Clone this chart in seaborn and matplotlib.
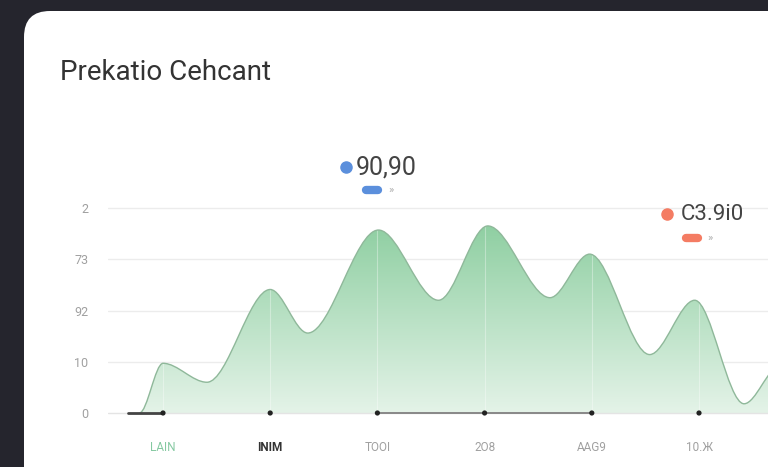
import numpy as np
import matplotlib
matplotlib.use("Agg")
import matplotlib.pyplot as plt
import seaborn as sns
from matplotlib.path import Path
from matplotlib.patches import PathPatch, FancyBboxPatch
from matplotlib.transforms import IdentityTransform
from matplotlib.colors import LinearSegmentedColormap

# ---- data ----
categories = ["LAIN", "INIM", "TOOI", "2O8", "AAG9", "10.Ж"]
cat_colors = ["#86c9a2", "#333333", "#a0a0a0", "#a0a0a0", "#a0a0a0", "#a0a0a0"]
curve_x = [-0.22, 0.0, 0.41, 1.0, 1.35, 2.01, 2.57, 3.03, 3.61, 3.98, 4.54, 4.96, 5.42, 5.75]
curve_y = [0.0, 9.7, 6.0, 24.1, 15.6, 35.7, 22.0, 36.5, 22.5, 31.0, 11.4, 22.0, 1.8, 9.0]
ytick_vals = [0, 10, 20, 30, 40]
ytick_labels = ["0", "10", "92", "73", "2"]
badge_blue = "90,90"
badge_red = "C3.9i0"

W, H = 768, 467
sns.set_style("white")
plt.rcParams["font.family"] = ["Roboto", "DejaVu Sans"]

fig = plt.figure(figsize=(W / 100, H / 100), dpi=100, facecolor="#25252d")

# white rounded card
card = FancyBboxPatch((24, -30), 800, 30 + H - 11, boxstyle="round,pad=0,rounding_size=26",
                      transform=IdentityTransform(), facecolor="white", edgecolor="none", zorder=-5)
fig.patches.append(card)


def fx(px):
    return px / W


def fy(py):
    return 1 - py / H


# axes placed so category 0 sits at px 163 and step is ~107 px
left_px, right_px, top_px, bot_px = 108, 768, 150, 420
ax = fig.add_axes([fx(left_px), fy(bot_px), fx(right_px - left_px), (bot_px - top_px) / H])
ax.set_zorder(2)
ax.patch.set_alpha(0)
x_per_px = 1 / 107.2
y_per_px = 10 / 51.25
xlim = ((left_px - 163) * x_per_px, (right_px - 163) * x_per_px)
ylim = (-(bot_px - 413) * y_per_px, (413 - top_px) * y_per_px)

# horizontal grid lines
for v in ytick_vals[1:]:
    ax.axhline(v, color="#ececec", lw=1, zorder=1)

# smooth area curve with bezier segments through the points
verts = [(curve_x[0], curve_y[0])]
codes = [Path.MOVETO]
for i in range(len(curve_x) - 1):
    dx = curve_x[i + 1] - curve_x[i]
    verts += [(curve_x[i] + dx / 3, curve_y[i]), (curve_x[i + 1] - dx / 3, curve_y[i + 1]),
              (curve_x[i + 1], curve_y[i + 1])]
    codes += [Path.CURVE4] * 3
line_path = Path(verts, codes)
fill_path = Path(verts + [(curve_x[-1], 0), (curve_x[0], 0), (curve_x[0], 0)],
                 codes + [Path.LINETO, Path.LINETO, Path.CLOSEPOLY])

clip = PathPatch(fill_path, facecolor="none", edgecolor="none", transform=ax.transData)
ax.add_patch(clip)
cmap = LinearSegmentedColormap.from_list("g", ["#e4f3e8", "#8fcfa2"])
grad = np.linspace(0, 1, 256).reshape(-1, 1)
im = ax.imshow(grad, cmap=cmap, origin="lower", aspect="auto",
               extent=[curve_x[0], curve_x[-1], 0, max(curve_y)], zorder=2)
im.set_clip_path(clip)
ax.add_patch(PathPatch(line_path, facecolor="none", edgecolor="#8fb89a", lw=1.0, zorder=3))

# faint vertical lines only inside the filled area
for i in range(len(categories)):
    vl = ax.axvline(i, color="white", alpha=0.35, lw=0.8, zorder=2.5)
    vl.set_clip_path(clip)

ax.set_xlim(*xlim)
ax.set_ylim(*ylim)

# baseline with dots
ax.axhline(0, color="#e4e4e4", lw=1, zorder=3)
sns.lineplot(x=[-0.33, 0], y=[0, 0], color="#444444", lw=2, ax=ax, zorder=4)
sns.lineplot(x=[2, 4], y=[0, 0], color="#888888", lw=1.4, ax=ax, zorder=4)
sns.scatterplot(x=list(range(len(categories))), y=[0] * len(categories), color="#222222",
                s=14, edgecolor="none", ax=ax, zorder=5, clip_on=False)

ax.set_xticks(range(len(categories)))
ax.set_xticklabels(categories, fontsize=8.5)
for lab, c in zip(ax.get_xticklabels(), cat_colors):
    lab.set_color(c)
ax.get_xticklabels()[1].set_fontweight("bold")
ax.set_yticks(ytick_vals)
ax.set_yticklabels(ytick_labels, fontsize=9, color="#a0a0a0")
ax.tick_params(axis="x", length=0, pad=15)
ax.tick_params(axis="y", length=0, pad=14)
for s in ax.spines.values():
    s.set_visible(False)

# title
fig.text(fx(60), fy(72), "Prekatio Cehcant", fontsize=20, color="#333333", va="center", ha="left")

# badges
fig.lines.append(plt.Line2D([fx(346)], [fy(167)], marker="o", ms=8, color="#5b8fdc",
                            transform=fig.transFigure))
fig.text(fx(356), fy(167), badge_blue, fontsize=18, color="#444444", va="center")
fig.lines.append(plt.Line2D([fx(366), fx(378)], [fy(190), fy(190)], lw=6, color="#5b8fdc",
                            solid_capstyle="round", transform=fig.transFigure))
fig.text(fx(388), fy(190), "»", fontsize=8, color="#aaaaaa", va="center")

fig.lines.append(plt.Line2D([fx(667)], [fy(214)], marker="o", ms=8, color="#f47c63",
                            transform=fig.transFigure))
fig.text(fx(681), fy(214), badge_red, fontsize=16, color="#444444", va="center")
fig.lines.append(plt.Line2D([fx(686), fx(698)], [fy(238), fy(238)], lw=6, color="#f47c63",
                            solid_capstyle="round", transform=fig.transFigure))
fig.text(fx(707), fy(238), "»", fontsize=8, color="#aaaaaa", va="center")

fig.savefig("out.png", dpi=100, facecolor=fig.get_facecolor())
